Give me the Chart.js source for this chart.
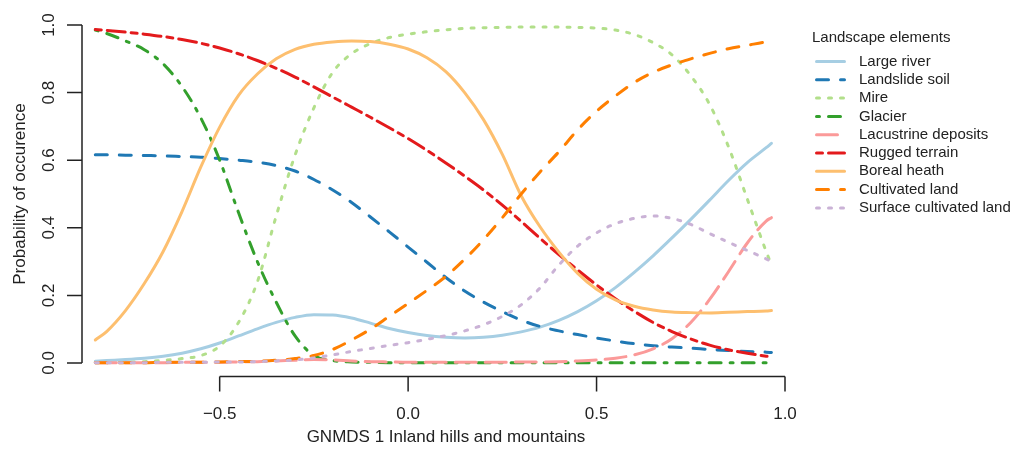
<!DOCTYPE html>
<html>
<head>
<meta charset="utf-8">
<script src="https://cdn.jsdelivr.net/npm/chart.js@4"></script>
<style>
  body { margin: 0; background: #fff; }
  #wrap { width: 1013px; height: 453px; position: relative; }
</style>
</head>
<body>
<div id="wrap"><canvas id="gamChart"></canvas></div>
<script>
// values
const xValues = [-0.83, -0.8, -0.75, -0.7, -0.65, -0.6, -0.55, -0.5, -0.45, -0.4, -0.35, -0.3, -0.25, -0.2, -0.15, -0.1, -0.05, 0,
    0.05, 0.1, 0.15, 0.2, 0.25, 0.3, 0.35, 0.4, 0.45, 0.5, 0.55, 0.6, 0.65, 0.7, 0.75, 0.8, 0.85, 0.9, 0.95, 0.964];

const largeRiver = [0.005, 0.007, 0.01, 0.014, 0.02, 0.029, 0.042, 0.059, 0.08, 0.101, 0.12, 0.135, 0.143, 0.142, 0.133, 0.118, 0.102, 0.09,
    0.081, 0.076, 0.074, 0.076, 0.082, 0.092, 0.106, 0.126, 0.152, 0.184, 0.223, 0.268, 0.317, 0.37, 0.425, 0.482, 0.54, 0.593, 0.637, 0.65];
const landslideSoil = [0.616, 0.616, 0.615, 0.614, 0.613, 0.611, 0.609, 0.605, 0.6, 0.594, 0.584, 0.568, 0.543, 0.512, 0.475, 0.432, 0.388, 0.343,
    0.298, 0.253, 0.213, 0.18, 0.152, 0.127, 0.108, 0.095, 0.084, 0.074, 0.065, 0.057, 0.051, 0.047, 0.044, 0.04, 0.037, 0.034, 0.032, 0.031];
const mire = [0.0005, 0.001, 0.002, 0.004, 0.008, 0.013, 0.022, 0.05, 0.12, 0.24, 0.435, 0.615, 0.755, 0.86, 0.915, 0.945, 0.963, 0.973,
    0.98, 0.986, 0.99, 0.992, 0.993, 0.994, 0.994, 0.994, 0.993, 0.991, 0.985, 0.972, 0.948, 0.912, 0.85, 0.765, 0.64, 0.485, 0.33, 0.29];
const glacier = [0.985, 0.975, 0.953, 0.927, 0.885, 0.818, 0.725, 0.6, 0.445, 0.3, 0.18, 0.08, 0.022, 0.007, 0.003, 0.002, 0.001, 0.001,
    0.001, 0.001, 0.001, 0.001, 0.001, 0.001, 0.001, 0.001, 0.001, 0.001, 0.001, 0.001, 0.001, 0.001, 0.001, 0.001, 0.001, 0.001, 0.001, 0.001];
const lacustrine = [0.001, 0.001, 0.001, 0.001, 0.001, 0.002, 0.002, 0.002, 0.003, 0.004, 0.006, 0.008, 0.01, 0.009, 0.006, 0.004, 0.003, 0.002,
    0.002, 0.002, 0.002, 0.002, 0.002, 0.003, 0.003, 0.004, 0.006, 0.009, 0.014, 0.024, 0.042, 0.072, 0.12, 0.188, 0.27, 0.355, 0.42, 0.43];
const ruggedTerrain = [0.987, 0.984, 0.979, 0.973, 0.966, 0.957, 0.946, 0.932, 0.915, 0.895, 0.872, 0.846, 0.817, 0.787, 0.757, 0.727, 0.696, 0.664,
    0.629, 0.592, 0.553, 0.512, 0.467, 0.419, 0.369, 0.321, 0.275, 0.231, 0.19, 0.153, 0.12, 0.093, 0.071, 0.053, 0.039, 0.029, 0.02, 0.018];
const borealHeath = [0.068, 0.093, 0.155, 0.235, 0.33, 0.448, 0.58, 0.698, 0.792, 0.855, 0.9, 0.928, 0.943, 0.95, 0.953, 0.951, 0.943, 0.929,
    0.903, 0.862, 0.8, 0.72, 0.617, 0.495, 0.403, 0.328, 0.265, 0.218, 0.187, 0.168, 0.157, 0.151, 0.149, 0.148, 0.15, 0.152, 0.154, 0.155];
const cultivatedLand = [0.0005, 0.001, 0.001, 0.001, 0.002, 0.002, 0.002, 0.003, 0.004, 0.005, 0.008, 0.013, 0.022, 0.04, 0.068, 0.1, 0.138, 0.176,
    0.215, 0.256, 0.307, 0.365, 0.43, 0.5, 0.565, 0.625, 0.69, 0.745, 0.79, 0.83, 0.86, 0.882, 0.9, 0.916, 0.93, 0.94, 0.95, 0.952];
const surfaceCultivated = [0.0005, 0.001, 0.001, 0.001, 0.002, 0.002, 0.002, 0.003, 0.003, 0.004, 0.006, 0.009, 0.015, 0.024, 0.034, 0.043, 0.052, 0.06,
    0.07, 0.081, 0.095, 0.113, 0.138, 0.172, 0.222, 0.29, 0.346, 0.385, 0.412, 0.428, 0.435, 0.428, 0.41, 0.383, 0.357, 0.333, 0.308, 0.3];

const seriesNames = ['Large river', 'Landslide soil', 'Mire', 'Glacier', 'Lacustrine deposits',
    'Rugged terrain', 'Boreal heath', 'Cultivated land', 'Surface cultivated land'];
const seriesValues = [largeRiver, landslideSoil, mire, glacier, lacustrine, ruggedTerrain, borealHeath, cultivatedLand, surfaceCultivated];
const seriesColors = ['#a6cee3', '#1f78b4', '#b2df8a', '#33a02c', '#fb9a99', '#e31a1c', '#fdbf6f', '#ff7f00', '#cab2d6'];
// R line types 1..6 then repeating
const seriesDashes = [[], [12, 12], [3, 9], [3, 9, 12, 9], [21, 9], [6, 6, 18, 6], [], [12, 12], [3, 9]];

const xTicks = [-0.5, 0, 0.5, 1.0];
const xTickLabels = ['\u22120.5', '0.0', '0.5', '1.0'];
const yTicks = [0, 0.2, 0.4, 0.6, 0.8, 1.0];
const yTickLabels = ['0.0', '0.2', '0.4', '0.6', '0.8', '1.0'];

const fontFamily = '"Liberation Sans", Arial, Helvetica, sans-serif';
const ink = '#222';

const datasets = seriesNames.map((name, i) => ({
    label: name,
    data: xValues.map((x, j) => ({ x: x, y: seriesValues[i][j] })),
    borderColor: seriesColors[i],
    borderDash: seriesDashes[i],
    borderWidth: 3,
    borderCapStyle: 'round',
    borderJoinStyle: 'round',
    cubicInterpolationMode: 'monotone',
    pointRadius: 0,
    fill: false,
    order: seriesNames.length - i,
}));

// base-graphics style axes and legend
const rAxes = {
    id: 'rAxes',
    afterDraw(chart) {
        const ctx = chart.ctx;
        const xs = chart.scales.x;
        const ys = chart.scales.y;
        const area = chart.chartArea;
        ctx.save();
        ctx.strokeStyle = ink;
        ctx.fillStyle = ink;
        ctx.lineWidth = 1.5;

        // y axis
        const ax = area.left;
        ctx.beginPath();
        ctx.moveTo(ax, ys.getPixelForValue(yTicks[0]));
        ctx.lineTo(ax, ys.getPixelForValue(yTicks[yTicks.length - 1]));
        yTicks.forEach(v => {
            const py = ys.getPixelForValue(v);
            ctx.moveTo(ax, py);
            ctx.lineTo(ax - 15, py);
        });
        ctx.stroke();
        ctx.font = '17px ' + fontFamily;
        ctx.textAlign = 'center';
        ctx.textBaseline = 'middle';
        yTicks.forEach((v, i) => {
            ctx.save();
            ctx.translate(49, ys.getPixelForValue(v));
            ctx.rotate(-Math.PI / 2);
            ctx.fillText(yTickLabels[i], 0, 0);
            ctx.restore();
        });
        ctx.save();
        ctx.translate(20, (area.top + area.bottom) / 2);
        ctx.rotate(-Math.PI / 2);
        ctx.fillText('Probability of occurence', 0, 0);
        ctx.restore();

        // x axis
        const ay = area.bottom;
        ctx.beginPath();
        ctx.moveTo(xs.getPixelForValue(xTicks[0]), ay);
        ctx.lineTo(xs.getPixelForValue(xTicks[xTicks.length - 1]), ay);
        xTicks.forEach(v => {
            const px = xs.getPixelForValue(v);
            ctx.moveTo(px, ay);
            ctx.lineTo(px, ay + 15);
        });
        ctx.stroke();
        xTicks.forEach((v, i) => {
            ctx.fillText(xTickLabels[i], xs.getPixelForValue(v), 414);
        });
        ctx.fillText('GNMDS 1 Inland hills and mountains', 446, 437);

        // legend
        ctx.font = '15px ' + fontFamily;
        ctx.textAlign = 'left';
        ctx.fillText('Landscape elements', 812, 38);
        seriesNames.forEach((name, i) => {
            const ly = 61.5 + i * 18.3;
            ctx.save();
            ctx.strokeStyle = seriesColors[i];
            ctx.lineWidth = 3;
            ctx.lineCap = 'round';
            ctx.setLineDash(seriesDashes[i]);
            ctx.beginPath();
            ctx.moveTo(816.5, ly);
            ctx.lineTo(844.5, ly);
            ctx.stroke();
            ctx.restore();
            ctx.fillText(name, 859, ly);
        });
        ctx.restore();
    }
};

const chartCtx = document.getElementById('gamChart').getContext('2d');
const gamChart = new Chart(chartCtx, {
    type: 'line',
    data: { datasets: datasets },
    options: {
        responsive: true,
        maintainAspectRatio: false,
        animation: false,
        layout: { padding: { left: 82, right: 228, top: 11.5, bottom: 76.5 } },
        scales: {
            x: { type: 'linear', min: -0.8653, max: 1.0, display: false },
            y: { type: 'linear', min: -0.04, max: 1.04, display: false },
        },
        plugins: {
            legend: { display: false },
            tooltip: { enabled: false },
        },
    },
    plugins: [rAxes],
});
</script>
</body>
</html>
